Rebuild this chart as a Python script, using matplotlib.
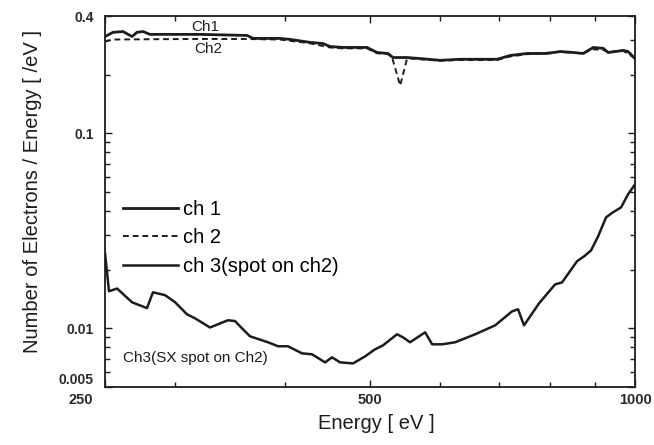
import matplotlib
matplotlib.use('Agg')
import matplotlib.pyplot as plt
import matplotlib.transforms as mtransforms
from matplotlib.ticker import FixedLocator, NullFormatter

plt.rcParams['font.family'] = ['Liberation Sans', 'DejaVu Sans']

# ch 1 (solid, top)
ch1_energy = [250, 255.3, 262.0, 268.3, 271.8, 276.1, 281.2, 320.6, 362.5, 368.2,
              395.1, 405.6, 427.4, 442.2, 450.4, 465.9, 496.1, 509.2, 524.0, 530.9,
              550.8, 570.0, 600.7, 633.0, 697.3, 721.4, 753.9, 794.6, 822.0, 850.4,
              873.2, 896.4, 920.2, 932.3, 969.6, 981.9, 1000]
ch1_value = [0.314, 0.330, 0.333, 0.314, 0.330, 0.333, 0.322, 0.322, 0.318, 0.307,
             0.307, 0.3035, 0.293, 0.289, 0.279, 0.276, 0.276, 0.260, 0.257, 0.245,
             0.245, 0.242, 0.237, 0.240, 0.240, 0.251, 0.257, 0.257, 0.263, 0.260,
             0.257, 0.276, 0.273, 0.260, 0.2665, 0.263, 0.242]

# ch 2 (dashed, with dip near 540 eV)
ch2_energy = [250, 255, 280, 320, 360, 395, 427, 450, 466, 496, 509, 524, 530, 541,
              551, 570, 600, 633, 697, 721, 754, 795, 822, 850, 873, 896, 920, 932,
              970, 1000]
ch2_value = [0.296, 0.303, 0.304, 0.305, 0.305, 0.303, 0.290, 0.276, 0.273, 0.273,
             0.258, 0.255, 0.243, 0.176, 0.243, 0.240, 0.236, 0.238, 0.238, 0.248,
             0.255, 0.259, 0.262, 0.259, 0.258, 0.270, 0.268, 0.262, 0.265, 0.243]

# ch 3 (spot on ch2)
ch3_energy = [250, 252.6, 258.0, 268.3, 279.0, 283.4, 292.5, 300.3, 309.8, 316.4,
              329.0, 339.5, 344.9, 351.2, 357.7, 365.3, 377.0, 383.0, 393.1, 403.5,
              418.5, 429.6, 444.5, 452.7, 462.3, 478.3, 493.5, 506.5, 517.3, 536.6,
              545.1, 555.2, 577.5, 588.2, 603.8, 624.6, 658.2, 693.6, 724.9, 736.4,
              748.0, 778.0, 811.3, 826.2, 859.3, 875.2, 891.3, 907.8, 927.0, 944.1,
              964.1, 981.9, 1000]
ch3_value = [0.0242, 0.0155, 0.0160, 0.0136, 0.0127, 0.0153, 0.0148, 0.0136, 0.0118,
             0.01125, 0.0101, 0.0107, 0.0110, 0.0109, 0.0100, 0.0091, 0.00868,
             0.00848, 0.00809, 0.00809, 0.00744, 0.00736, 0.00669, 0.0071, 0.00669,
             0.00661, 0.00718, 0.0078, 0.00818, 0.00932, 0.00899, 0.00848, 0.00954,
             0.00828, 0.00828, 0.00848, 0.00932, 0.01036, 0.01222, 0.01252, 0.01036,
             0.01344, 0.0168, 0.0172, 0.0221, 0.0234, 0.0251, 0.0296, 0.0371, 0.0394,
             0.0417, 0.0487, 0.0548]

x_major = [250, 500, 1000]
x_minor = [300, 400, 600, 700, 800, 900]
y_major = [0.005, 0.01, 0.1, 0.4]
y_major_labels = ['0.005', '0.01', '0.1', '0.4']

ink = '#1c1c1c'

fig = plt.figure(figsize=(6.54, 4.45), dpi=100)
ax = fig.add_axes([0.1606, 0.1303, 0.8104, 0.8337])

ax.plot(ch1_energy, ch1_value, color=ink, lw=2.0, label='ch 1')
ax.plot(ch2_energy, ch2_value, color=ink, lw=1.4, dashes=(3, 2), label='ch 2')
ax.plot(ch3_energy, ch3_value, color=ink, lw=1.8, label='ch 3(spot on ch2)')

ax.set_xscale('log')
ax.set_yscale('log')
ax.set_xlim(250, 1000)
ax.set_ylim(0.005, 0.4)

ax.xaxis.set_major_locator(FixedLocator(x_major))
ax.xaxis.set_minor_locator(FixedLocator(x_minor))
ax.xaxis.set_minor_formatter(NullFormatter())
ax.set_xticklabels([str(v) for v in x_major])
ax.yaxis.set_major_locator(FixedLocator(y_major))
ax.set_yticklabels(y_major_labels)
ax.yaxis.set_minor_formatter(NullFormatter())

ax.tick_params(which='both', direction='in', top=True, right=True, color=ink, width=1.0)
ax.tick_params(which='major', length=5)
ax.tick_params(which='minor', length=3.5)
ax.tick_params(axis='x', labelsize=10.5, pad=4)
ax.tick_params(axis='y', labelsize=10, pad=8)
for lab in ax.get_xticklabels() + ax.get_yticklabels():
    lab.set_fontweight('bold')
    lab.set_color('#2a2a2a')
for s in ax.spines.values():
    s.set_linewidth(1.3)
    s.set_color(ink)

fig.canvas.draw()
# first x label sits left of the axis, lowest y label sits above the corner
lab250 = ax.get_xticklabels()[0]
lab250.set_horizontalalignment('right')
lab250.set_transform(lab250.get_transform() +
                     mtransforms.ScaledTranslation(-9 / 72, 0, fig.dpi_scale_trans))
ax.get_yticklabels()[0].set_verticalalignment('bottom')

ax.set_xlabel('Energy [ eV ]', fontsize=14.5, color=ink)
ax.set_ylabel('Number of Electrons / Energy [ /eV ]', fontsize=14.5, color=ink)
ax.xaxis.set_label_coords(0.511, -0.074)
ax.yaxis.set_label_coords(-0.119, 0.526)

ax.text(0.189, 0.971, 'Ch1', transform=ax.transAxes, fontsize=11,
        ha='center', va='center', color=ink)
ax.text(0.194, 0.912, 'Ch2', transform=ax.transAxes, fontsize=11,
        ha='center', va='center', color=ink)
ax.text(0.034, 0.077, 'Ch3(SX spot on Ch2)', transform=ax.transAxes, fontsize=11,
        ha='left', va='center', color=ink)

ax.legend(loc='upper left', bbox_to_anchor=(0.034, 0.504), frameon=False,
          fontsize=14.5, handlelength=2.73, handletextpad=0.25,
          borderpad=0, borderaxespad=0, labelspacing=0.47)

fig.savefig('out.png', dpi=100)
